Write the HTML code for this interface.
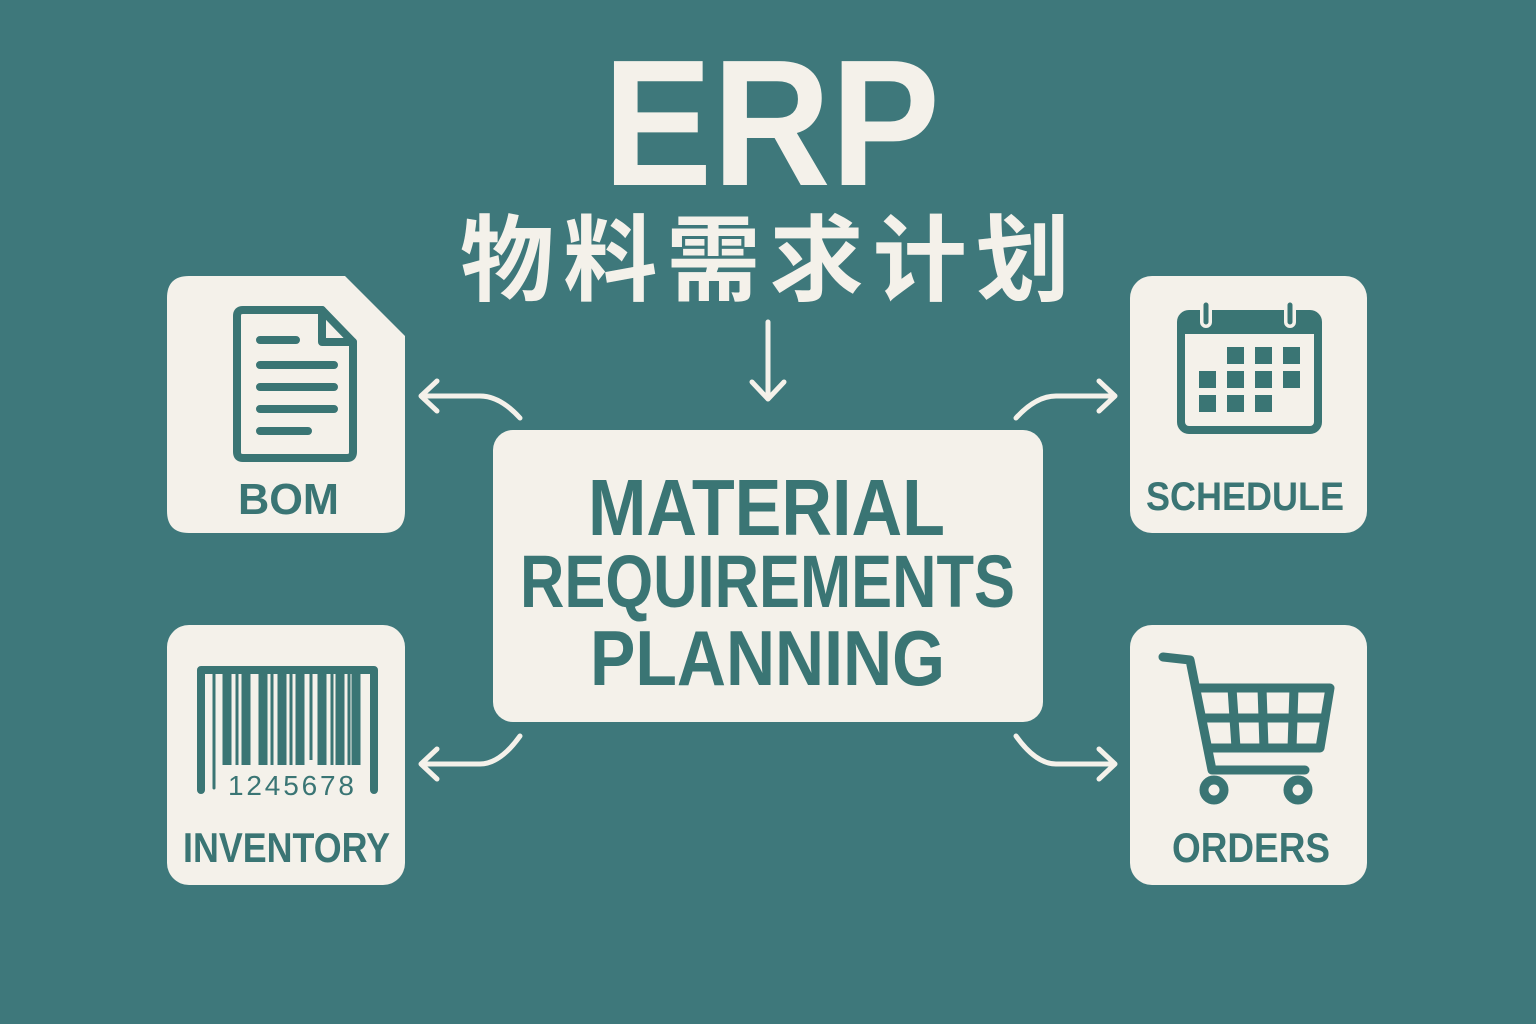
<!DOCTYPE html>
<html><head><meta charset="utf-8"><style>
html,body{margin:0;padding:0;background:#3e787b;}
svg{display:block}
</style></head><body>
<svg width="1536" height="1024" viewBox="0 0 1536 1024" xmlns="http://www.w3.org/2000/svg">
<rect width="1536" height="1024" fill="#3e787b"/>
<g fill="#f4f1ea" font-family="Liberation Sans, sans-serif" font-weight="bold">
<text x="603" y="185" font-size="180" textLength="337" lengthAdjust="spacingAndGlyphs">ERP</text>
<text x="460" y="293" font-size="94" font-family="Liberation Sans, Noto Sans CJK SC, sans-serif" textLength="610" lengthAdjust="spacing">物料需求计划</text>
</g>
<!-- arrows -->
<g fill="none" stroke="#f4f1ea" stroke-width="5" stroke-linecap="round" stroke-linejoin="round">
<path d="M768 322 V398 M752 382 L768 399 L784 382"/>
<path d="M520 418 Q500 396 480 396 H421 M437 381 L421 396 L437 411"/>
<path d="M1016 418 Q1036 396 1056 396 H1115 M1099 381 L1115 396 L1099 411"/>
<path d="M520 736 Q500 764 480 764 H421 M437 749 L421 764 L437 779"/>
<path d="M1016 736 Q1036 764 1056 764 H1115 M1099 749 L1115 764 L1099 779"/>
</g>
<!-- cards -->
<g fill="#f4f1ea">
<path d="M189 276 H345 L405 336 V511 Q405 533 383 533 H189 Q167 533 167 511 V298 Q167 276 189 276Z"/>
<rect x="1130" y="276" width="237" height="257" rx="22"/>
<rect x="167" y="625" width="238" height="260" rx="22"/>
<rect x="1130" y="625" width="237" height="260" rx="22"/>
<rect x="493" y="430" width="550" height="292" rx="20"/>
</g>
<g fill="#3a7574" font-family="Liberation Sans, sans-serif" font-weight="bold">
<text x="588" y="535" font-size="80" textLength="357" lengthAdjust="spacingAndGlyphs">MATERIAL</text>
<text x="520" y="607" font-size="74" textLength="495" lengthAdjust="spacingAndGlyphs">REQUIREMENTS</text>
<text x="590" y="685" font-size="78" textLength="355" lengthAdjust="spacingAndGlyphs">PLANNING</text>
<text x="238" y="514" font-size="44" textLength="101" lengthAdjust="spacingAndGlyphs">BOM</text>
<text x="1146" y="510" font-size="40" textLength="198" lengthAdjust="spacingAndGlyphs">SCHEDULE</text>
<text x="183" y="862" font-size="42" textLength="207" lengthAdjust="spacingAndGlyphs">INVENTORY</text>
<text x="1172" y="862" font-size="42" textLength="158" lengthAdjust="spacingAndGlyphs">ORDERS</text>
<text x="228" y="795" font-size="28" font-weight="normal" textLength="126" lengthAdjust="spacing">1245678</text>
</g>
<!-- document icon -->
<g fill="none" stroke="#3a7574" stroke-width="8" stroke-linecap="round" stroke-linejoin="round">
<path d="M243 310 H322 L353 342 V452 Q353 458 347 458 H243 Q237 458 237 452 V316 Q237 310 243 310Z"/>
<path d="M322 310 V342 H353"/>
<path d="M260 340 H296 M260 365 H334 M260 387 H334 M260 409 H334 M260 431 H308"/>
</g>
<!-- calendar -->
<g>
<rect x="1181" y="314" width="137" height="116" rx="8" fill="none" stroke="#3a7574" stroke-width="8"/>
<rect x="1181" y="314" width="137" height="20" fill="#3a7574"/>
<g stroke="#f4f1ea" stroke-width="12" stroke-linecap="round"><path d="M1206 305 V322 M1290 305 V322"/></g>
<g stroke="#3a7574" stroke-width="5" stroke-linecap="round"><path d="M1206 305 V322 M1290 305 V322"/></g>
<g fill="#3a7574">
<rect x="1227" y="347" width="17" height="17"/><rect x="1255" y="347" width="17" height="17"/><rect x="1283" y="347" width="17" height="17"/>
<rect x="1199" y="371" width="17" height="17"/><rect x="1227" y="371" width="17" height="17"/><rect x="1255" y="371" width="17" height="17"/><rect x="1283" y="371" width="17" height="17"/>
<rect x="1199" y="395" width="17" height="17"/><rect x="1227" y="395" width="17" height="17"/><rect x="1255" y="395" width="17" height="17"/>
</g>
</g>
<!-- barcode -->
<g fill="none" stroke="#3a7574" stroke-linecap="round">
<path d="M201 790 V670 H374 V790" stroke-width="8" stroke-linejoin="round"/>
<path d="M214 670 V788" stroke-width="3"/>
<path d="M227 670 V765 M246 670 V765 M263 670 V765 M282 670 V765 M300 670 V765 M322 670 V765 M340 670 V765 M356 670 V765" stroke-width="9" stroke-linecap="butt"/>
<path d="M237 670 V765 M272 670 V765 M291 670 V765 M311 670 V760 M332 670 V765 M349 670 V765" stroke-width="3" stroke-linecap="butt"/>
</g>
<!-- cart -->
<g fill="none" stroke="#3a7574" stroke-width="9" stroke-linecap="round" stroke-linejoin="round">
<path d="M1163 657 L1190 660 L1212 770 H1305"/>
<path d="M1196 688 H1330 L1320 748 H1210"/>
<path d="M1202 718 H1325 M1232 688 L1236 748 M1262 688 L1264 748 M1294 688 L1292 748"/>
<circle cx="1214" cy="790" r="10"/><circle cx="1298" cy="790" r="10"/>
</g>
</svg>
</body></html>
